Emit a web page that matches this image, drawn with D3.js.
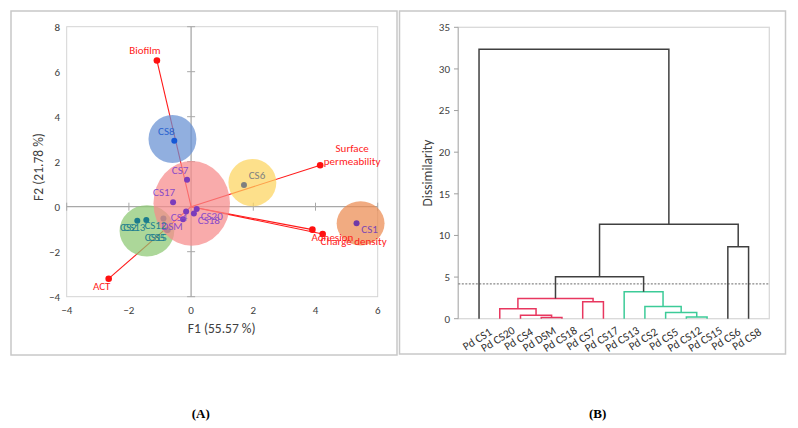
<!DOCTYPE html>
<html><head><meta charset="utf-8">
<script src="https://cdn.jsdelivr.net/npm/d3@7"></script>
<style>
body{margin:0;background:#fff}
svg{display:block}
text{font-family:Carlito,'Liberation Sans Narrow','DejaVu Sans Condensed','Liberation Sans',sans-serif}
text.cap{font-family:'Liberation Serif','DejaVu Serif',serif;font-weight:bold}
</style>
</head><body>
<svg id="c" width="798" height="428"></svg>
<script>
// ---------- Panel A data (PCA biplot) ----------
const xTicksA = [-4, -2, 0, 2, 4, 6];
const yTicksA = [-4, -2, 0, 2, 4, 6, 8];
const varNames = ["Biofilm", "Surface permeability", "Adhesion", "Charge density", "ACT"];
const varX = [-1.10, 4.15, 3.90, 4.23, -2.65];
const varY = [6.50, 1.84, -1.02, -1.21, -3.20];
const obsNames = ["CS1","CS8","CS6","CS7","CS17","CS20","CS18","CS4","DSM","CS2","CS13","CS12","CS5","CS15"];
const obsX = [5.32, -0.54, 1.70, -0.13, -0.58, 0.18, 0.09, -0.16, -0.26, -1.73, -1.44, -0.89, -0.75, -0.78];
const obsY = [-0.74, 2.93, 0.96, 1.20, 0.20, -0.10, -0.30, -0.21, -0.56, -0.62, -0.59, -0.52, -1.04, -1.02];
const obsGroup = ["C1","C5","C4","C2","C2","C2","C2","C2","C2","C3","C3","C3","C3","C3"];
const ellGroup = ["C3","C2","C5","C4","C1"];
const ellX = [-1.42, 0.02, -0.60, 1.97, 5.45];
const ellY = [-1.07, 0.15, 3.01, 1.07, -0.74];
const ellRx = [0.88, 1.23, 0.77, 0.77, 0.77];
const ellRy = [1.14, 1.88, 1.07, 1.05, 0.98];
const xTitleA = "F1 (55.57 %)";
const yTitleA = "F2 (21.78 %)";

// ---------- Panel B data (dendrogram) ----------
const leaves = ["Pd CS1","Pd CS20","Pd CS4","Pd DSM","Pd CS18","Pd CS7","Pd CS17","Pd CS13","Pd CS2","Pd CS5","Pd CS12","Pd CS15","Pd CS6","Pd CS8"];
// merges: children are leaf names or "m<index>"
const mergeLeft   = ["Pd DSM","Pd CS4","Pd CS20","Pd CS7","m2","Pd CS12","Pd CS5","Pd CS2","Pd CS13","m4","Pd CS6","m9","Pd CS1"];
const mergeRight  = ["Pd CS18","m0","m1","Pd CS17","m3","Pd CS15","m5","m6","m7","m8","Pd CS8","m10","m11"];
const mergeHeight = [0.13, 0.41, 1.21, 2.05, 2.44, 0.20, 0.74, 1.48, 3.25, 5.05, 8.65, 11.34, 32.36];
const mergeCluster= ["A","A","A","A","A","B","B","B","B","-","-","-","-"];
const yTicksB = [0, 5, 10, 15, 20, 25, 30, 35];
const cutHeight = 4.18;
const yTitleB = "Dissimilarity";

// ---------- layout / style ----------
const svg = d3.select("#c");
const grpColor = {C1:"#6f3aa8", C2:"#7b3cbc", C3:"#1b7c8c", C4:"#7f7f7f", C5:"#1457d6"};
const lblColor = {C1:"#7c46b4", C2:"#8a4cc8", C3:"#1f7f90", C4:"#808080", C5:"#2a63cf"};
const ellColor = {C1:"#ec8a50", C2:"#f78a8a", C3:"#8cc772", C4:"#fcd45e", C5:"#6690d2"};
const obsLabelOffset = {CS1:[13,6],CS8:[-8,-10],CS6:[13,-10],CS7:[-7,-10],CS17:[-9,-10],CS20:[15,7],CS18:[15,7],
  CS4:[-7,6],DSM:[-11,7],CS2:[-9,6],CS13:[-12,7],CS12:[-8,7],CS5:[-11,7],CS15:[-11,7]};
const varLabelLayout = [
  [["Biofilm",-12,-10]],
  [["Surface",32,-17],["permeability",32,-4]],
  [["Adhesion",20,7]],
  [["Charge density",31,7]],
  [["ACT",-7,7]]
];

// panel frames
svg.append("rect").attr("x",11).attr("y",11).attr("width",386).attr("height",344)
  .attr("fill","none").attr("stroke","#c8c8c8").attr("stroke-width",1.5);
svg.append("rect").attr("x",399.5).attr("y",11).attr("width",386).attr("height",343)
  .attr("fill","none").attr("stroke","#c8c8c8").attr("stroke-width",1.5);

// ======== Panel A ========
const xA = d3.scaleLinear().domain([-4,6]).range([66.7,377.7]);
const yA = d3.scaleLinear().domain([-4,8]).range([296.7,26.7]);
const gA = svg.append("g");
gA.append("rect").attr("x",xA(-4)).attr("y",yA(8)).attr("width",xA(6)-xA(-4)).attr("height",yA(-4)-yA(8))
  .attr("fill","none").attr("stroke","#d4d4d4").attr("stroke-width",1);
// zero lines with crossing ticks
gA.append("line").attr("x1",xA(0)).attr("x2",xA(0)).attr("y1",yA(8)).attr("y2",yA(-4)).attr("stroke","#a8a8a8").attr("stroke-width",1.3);
gA.append("line").attr("x1",xA(-4)).attr("x2",xA(6)).attr("y1",yA(0)).attr("y2",yA(0)).attr("stroke","#a8a8a8").attr("stroke-width",1.3);
gA.selectAll(".ty").data(yTicksA).join("line").attr("x1",xA(0)-4).attr("x2",xA(0)+4).attr("y1",d=>yA(d)).attr("y2",d=>yA(d)).attr("stroke","#a8a8a8");
gA.selectAll(".tx").data(xTicksA).join("line").attr("y1",yA(0)-4).attr("y2",yA(0)+4).attr("x1",d=>xA(d)).attr("x2",d=>xA(d)).attr("stroke","#a8a8a8");
// tick labels
const fmt = d3.format("d");
gA.selectAll(".yl").data(yTicksA).join("text").attr("x",60).attr("y",d=>yA(d)).attr("dy","0.35em")
  .attr("text-anchor","end").attr("font-size",11).attr("fill","#404040").text(d=>fmt(d));
gA.selectAll(".xl").data(xTicksA).join("text").attr("x",d=>xA(d)).attr("y",310).attr("dy","0.35em")
  .attr("text-anchor","middle").attr("font-size",11).attr("fill","#404040").text(d=>fmt(d));
gA.append("text").attr("x",221.7).attr("y",328).attr("dy","0.35em").attr("text-anchor","middle")
  .attr("font-size",13.5).attr("fill","#404040").text(xTitleA);
gA.append("text").attr("transform","translate(38,167) rotate(-90)").attr("dy","0.35em").attr("text-anchor","middle")
  .attr("font-size",13.5).attr("fill","#404040").text(yTitleA);

// vector lines
varNames.forEach((n,i)=>{
  gA.append("line").attr("x1",xA(0)).attr("y1",yA(0)).attr("x2",xA(varX[i])).attr("y2",yA(varY[i]))
    .attr("stroke","#ff1a1a").attr("stroke-width",1.1);
});
const ellIdx = g => ellGroup.indexOf(g);
function drawEll(g){
  const i = ellIdx(g);
  gA.append("ellipse").attr("cx",xA(ellX[i])).attr("cy",yA(ellY[i]))
    .attr("rx",xA(ellRx[i])-xA(0)).attr("ry",yA(0)-yA(ellRy[i]))
    .attr("fill",ellColor[g]).attr("fill-opacity",0.72);
}
function drawPts(filter){
  obsNames.forEach((n,i)=>{
    if(!filter(obsGroup[i])) return;
    gA.append("circle").attr("cx",xA(obsX[i])).attr("cy",yA(obsY[i])).attr("r",3)
      .attr("fill",grpColor[obsGroup[i]]);
  });
}
drawEll("C3");
drawPts(g=>g==="C3");
drawEll("C2"); drawEll("C5"); drawEll("C4"); drawEll("C1");
drawPts(g=>g!=="C3");
// vector end dots
varNames.forEach((n,i)=>{
  gA.append("circle").attr("cx",xA(varX[i])).attr("cy",yA(varY[i])).attr("r",3.3).attr("fill","#ff1010");
});
// observation labels
obsNames.forEach((n,i)=>{
  const o = obsLabelOffset[n];
  gA.append("text").attr("x",xA(obsX[i])+o[0]).attr("y",yA(obsY[i])+o[1]).attr("dy","0.35em")
    .attr("text-anchor","middle").attr("font-size",11).attr("fill",lblColor[obsGroup[i]]).text(n);
});
// variable labels
varNames.forEach((n,i)=>{
  varLabelLayout[i].forEach(l=>{
    gA.append("text").attr("x",xA(varX[i])+l[1]).attr("y",yA(varY[i])+l[2]).attr("dy","0.35em")
      .attr("text-anchor","middle").attr("font-size",11).attr("fill","#ff1a1a").text(l[0]);
  });
});

// ======== Panel B ========
const xB = d3.scalePoint().domain(leaves).range([458.3,769.3]).padding(1);
const yB = d3.scaleLinear().domain([0,35]).range([318.7,27.3]);
const gB = svg.append("g");
gB.append("rect").attr("x",458.3).attr("y",yB(35)).attr("width",311).attr("height",yB(0)-yB(35))
  .attr("fill","none").attr("stroke","#d9d9d9").attr("stroke-width",1.3);
gB.append("line").attr("x1",458.3).attr("x2",458.3).attr("y1",yB(35)).attr("y2",yB(0)).attr("stroke","#bdbdbd").attr("stroke-width",1.3);
gB.selectAll(".tk").data(yTicksB).join("line").attr("x1",454).attr("x2",458.3).attr("y1",d=>yB(d)).attr("y2",d=>yB(d)).attr("stroke","#a0a0a0");
gB.selectAll(".tl").data(yTicksB).join("text").attr("x",450).attr("y",d=>yB(d)).attr("dy","0.35em")
  .attr("text-anchor","end").attr("font-size",11).attr("fill","#404040").text(d=>d);
gB.append("text").attr("transform","translate(427,173) rotate(-90)").attr("dy","0.35em").attr("text-anchor","middle")
  .attr("font-size",13.5).attr("fill","#404040").text(yTitleB);
// cut line
gB.append("line").attr("x1",458.3).attr("x2",769.3).attr("y1",yB(cutHeight)).attr("y2",yB(cutHeight))
  .attr("stroke","#6a6a6a").attr("stroke-width",1).attr("stroke-dasharray","2,1.5");
// dendrogram links
const nodeX = {}, nodeY = {};
leaves.forEach(l=>{ nodeX[l]=xB(l); nodeY[l]=0; });
const clusterColor = {A:"#e8375f", B:"#3ccb98", "-":"#404040"};
mergeHeight.forEach((h,i)=>{
  const L = mergeLeft[i], R = mergeRight[i];
  const xl = nodeX[L], xr = nodeX[R];
  const p = d3.path();
  p.moveTo(xl, yB(nodeY[L])); p.lineTo(xl, yB(h)); p.lineTo(xr, yB(h)); p.lineTo(xr, yB(nodeY[R]));
  gB.append("path").attr("d",p.toString()).attr("fill","none")
    .attr("stroke",clusterColor[mergeCluster[i]]).attr("stroke-width",1.5);
  nodeX["m"+i] = (xl+xr)/2; nodeY["m"+i] = h;
});
// leaf labels
gB.selectAll(".lf").data(leaves).join("text")
  .attr("transform",d=>`translate(${xB(d)-2},339) rotate(-32)`).attr("dy","0.35em")
  .attr("text-anchor","middle").attr("font-size",11.5).attr("fill","#303030").text(d=>d);

// panel captions
svg.append("text").attr("class","cap").attr("x",200.7).attr("y",413.3).attr("dy","0.35em").attr("text-anchor","middle")
  .attr("font-size",13).text("(A)");
svg.append("text").attr("class","cap").attr("x",597.7).attr("y",413.3).attr("dy","0.35em").attr("text-anchor","middle")
  .attr("font-size",13).text("(B)");
</script>
</body></html>
